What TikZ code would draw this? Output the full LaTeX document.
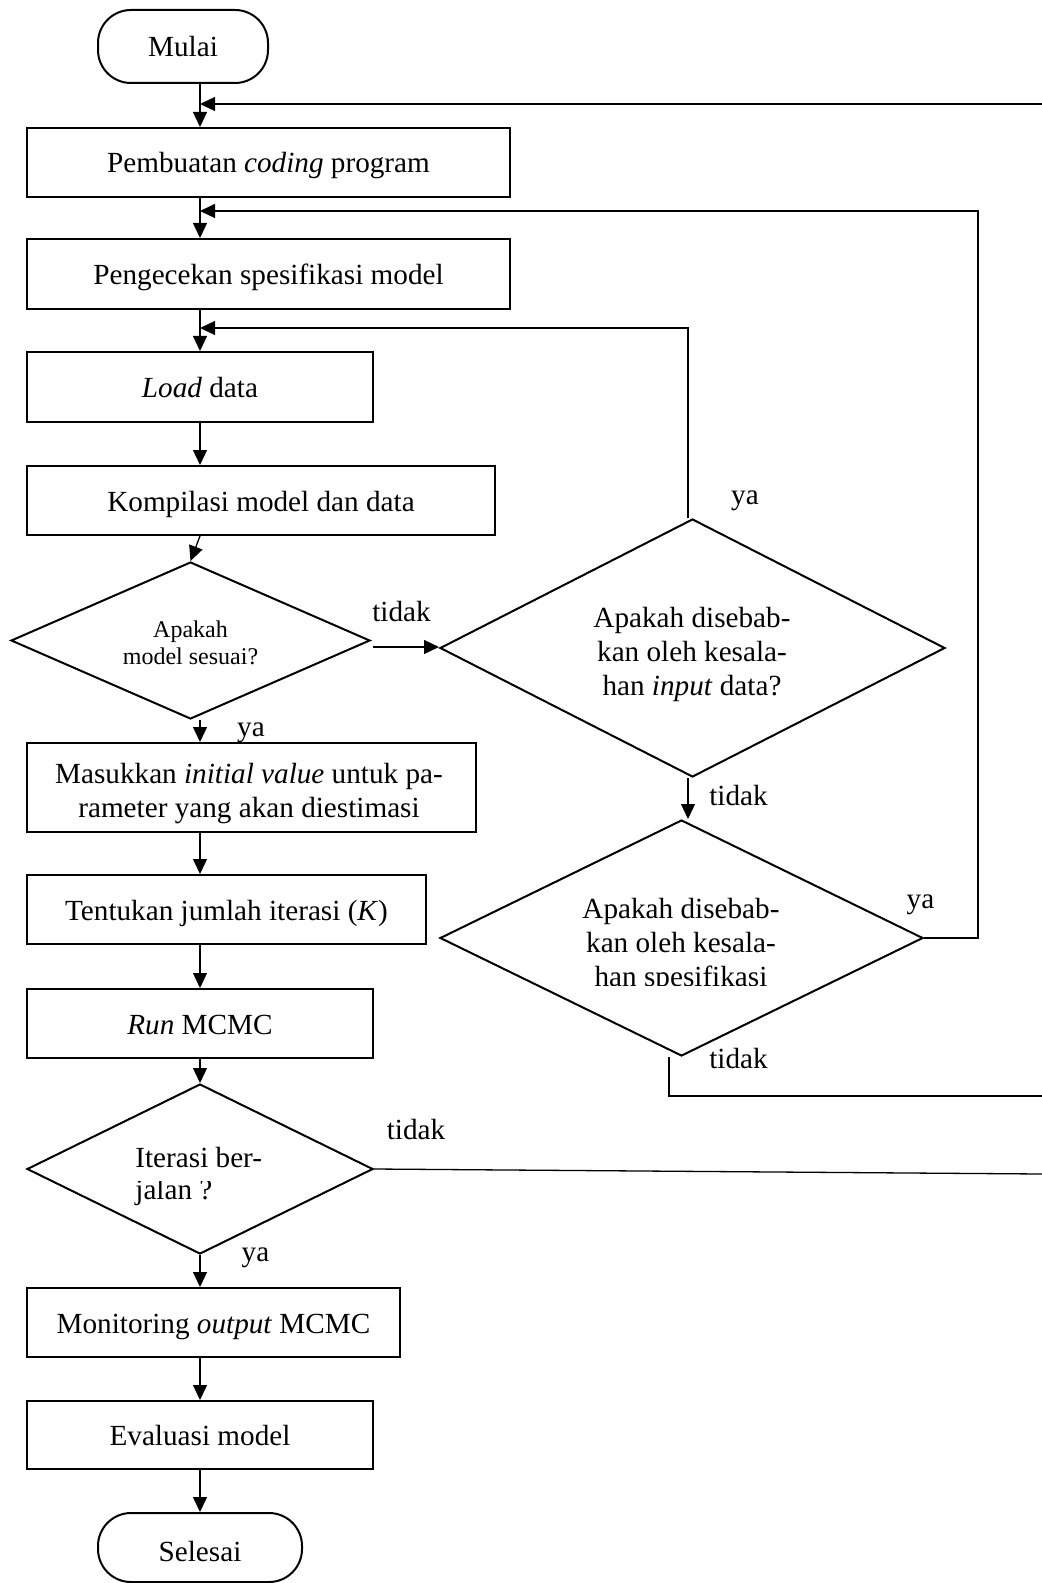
\documentclass[tikz,border=0pt]{standalone}
\usepackage{fontspec}
\setmainfont{Liberation Serif}
\usetikzlibrary{shapes.geometric,arrows.meta}

% type sizes used in the chart
\newcommand\flowfont{\fontsize{14.6}{17}\selectfont}
\newcommand\smallflowfont{\fontsize{12}{13.5}\selectfont}
\newcommand\tightflowfont{\fontsize{14.6}{16}\selectfont}

\begin{document}
\begin{tikzpicture}[x=0.5pt,y=-0.5pt,
  box/.style={draw,line width=1pt,rectangle,inner sep=0pt,font=\flowfont,text height=10.5pt,text depth=0pt},
  plainbox/.style={draw,line width=1pt,rectangle,inner sep=0pt},
  term/.style={draw,line width=1pt,rectangle,rounded corners=16.5pt,inner sep=0pt,font=\flowfont,text height=10.5pt,text depth=0pt},
  dec/.style={draw,line width=1pt,diamond,inner sep=0pt},
  txt/.style={inner sep=0pt,align=center,font=\flowfont},
  lbl/.style={inner sep=0pt,font=\flowfont},
  conn/.style={line width=0.65pt},
  arr/.style={conn,-{Triangle[length=7.5pt,width=7pt]}},
]
\useasboundingbox (0,0) rectangle (1042,1583);

% main column
\node[term,minimum width=85pt,minimum height=36.5pt] (mulai) at (183,46.5) {Mulai};
\node[box,minimum width=241.5pt,minimum height=34.5pt] (coding) at (268.5,162.5) {Pembuatan \textit{coding} program};
\node[box,minimum width=241.5pt,minimum height=35pt] (cek) at (268.5,274) {Pengecekan spesifikasi model};
\node[box,minimum width=173pt,minimum height=35pt] (load) at (200,387) {\textit{Load} data};
\node[box,minimum width=234pt,minimum height=34.5pt] (kompil) at (261,500.5) {Kompilasi model dan data};
\node[dec,minimum width=179.5pt,minimum height=78.5pt] (d1) at (190.5,640.5) {};
\node[txt,font=\smallflowfont] (d1t) at (190.5,643) {Apakah\\model sesuai?};
\node[plainbox,minimum width=224.5pt,minimum height=44.5pt] (init) at (251.5,787.5) {};
\node[txt] (initt) at (249,794) {Masukkan \textit{initial value} untuk pa-\\rameter yang akan diestimasi};
\node[box,minimum width=199.5pt,minimum height=34.5pt] (iter) at (226.5,909.5) {Tentukan jumlah iterasi (\textit{K})};
\node[box,minimum width=173pt,minimum height=34.5pt] (run) at (200,1023.5) {\textit{Run} MCMC};
\node[dec,minimum width=173pt,minimum height=85pt] (d4) at (200,1169) {};
\begin{scope}
  \clip (0,0) rectangle (1042,1168) (0,1181) rectangle (1042,1583);
  \node[txt,align=left,anchor=west,font=\tightflowfont] (d4t) at (135,1176.5) {Iterasi ber-\\jalan ?};
\end{scope}
\node[box,minimum width=186.5pt,minimum height=34.5pt] (mon) at (213.5,1322.5) {Monitoring \textit{output} MCMC};
\node[box,minimum width=173pt,minimum height=34pt] (eval) at (200,1435) {Evaluasi model};
\node[term,minimum width=102pt,minimum height=34.5pt,text height=14pt] (selesai) at (200,1547.5) {Selesai};

% error-checking branch
\node[dec,minimum width=252.5pt,minimum height=129pt] (d2) at (692.5,648) {};
\node[txt] (d2t) at (692,654) {Apakah disebab-\\kan oleh kesala-\\han \textit{input} data?};
\node[dec,minimum width=241.5pt,minimum height=118pt] (d3) at (681.5,938) {};
\begin{scope}
  \clip (0,0) rectangle (1042,985);
  \node[txt] (d3t) at (681,945) {Apakah disebab-\\kan oleh kesala-\\han spesifikasi};
\end{scope}

% helper points
\coordinate (spine) at (200,0);
\coordinate (edgeA) at (1042,104);
\coordinate (loopB) at (978,211);
\coordinate (loopC) at (688,328);
\coordinate (tdk) at (373,647);
\coordinate (loopD) at (669,1096);
\coordinate (edgeD) at (1042,1096);
\coordinate (edgeE) at (1042,1174);

% straight flow
\draw[arr] (mulai.south -| spine) -- (coding.north -| spine);
\draw[arr] (coding.south -| spine) -- (cek.north -| spine);
\draw[arr] (cek.south -| spine) -- (load.north);
\draw[arr] (load.south) -- (kompil.north -| spine);
\draw[arr] (kompil.south -| spine) -- (d1.north);
\draw[arr] (d1.south -| spine) -- (init.north -| spine);
\draw[arr] (init.south -| spine) -- (iter.north -| spine);
\draw[arr] (iter.south -| spine) -- (run.north);
\draw[arr] (run.south) -- (d4.north);
\draw[arr] (d4.south) -- (mon.north -| spine);
\draw[arr] (mon.south -| spine) -- (eval.north);
\draw[arr] (eval.south) -- (selesai.north);

% branches and loops
\draw[arr] (edgeA) -- (edgeA -| spine);
\draw[arr] (tdk) -- (tdk -| d2.west);
\draw[arr] (d2.north -| loopC) -- (loopC) -- (loopC -| spine);
\draw[arr] (d2.south -| loopC) -- (d3.north -| loopC);
\draw[arr] (d3.east) -- (d3.east -| loopB) -- (loopB) -- (loopB -| spine);
\draw[conn] (d3.south -| loopD) -- (loopD) -- (edgeD);
\draw[conn] (d4.east) -- (edgeE);

% branch labels
\node[lbl] (l1) at (401.5,612) {tidak};
\node[lbl] (l2) at (745,501) {ya};
\node[lbl] (l3) at (251,733) {ya};
\node[lbl] (l4) at (738.5,796) {tidak};
\node[lbl] (l5) at (920.5,905) {ya};
\node[lbl] (l6) at (738.5,1059) {tidak};
\node[lbl] (l7) at (416,1129) {tidak};
\node[lbl] (l8) at (255.5,1258) {ya};
\end{tikzpicture}
\end{document}
